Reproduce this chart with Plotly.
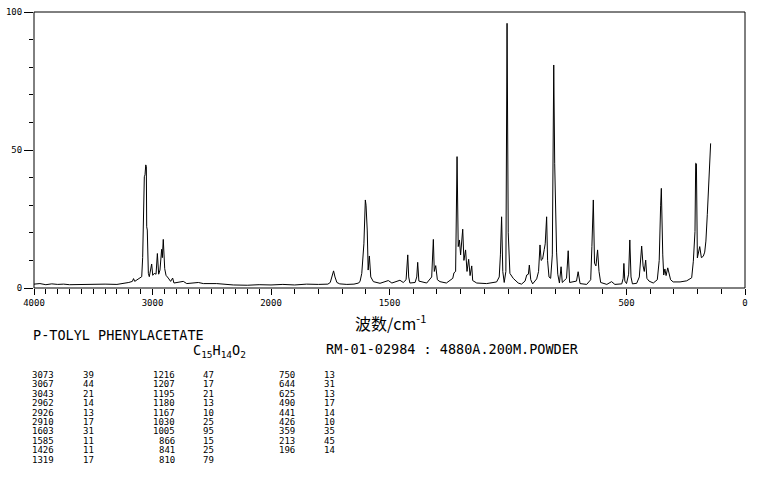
import plotly.graph_objects as go

# ---- spectrum (wavenumber cm-1, relative intensity) ----
wn_high = [4000, 3950, 3900, 3850, 3800, 3750, 3700, 3600, 3500, 3400, 3300, 3250,
           3200, 3170, 3160, 3150, 3130, 3110, 3091, 3083, 3074, 3069, 3063, 3057,
           3052, 3049, 3044, 3035, 3027, 3007, 2998, 2985, 2970, 2959, 2948, 2937,
           2923, 2917, 2909, 2897, 2886, 2867, 2847, 2830, 2819, 2740, 2711, 2613,
           2571, 2458, 2318, 2200, 2100, 2000]
int_high = [1.4, 1.6, 1.2, 1.5, 1.3, 1.4, 1.2, 1.3, 1.2, 1.4, 1.3, 1.6,
            2.0, 2.4, 3.4, 2.4, 3.0, 3.6, 4.1, 11, 35.5, 40.3, 41, 44.6,
            44, 22.2, 21, 5.3, 4.1, 8.7, 4.6, 5.3, 5.0, 12.5, 5.0, 6.5,
            14, 11, 17.6, 7, 4.6, 3.6, 2.4, 3.6, 1.8, 2.4, 1.6, 2.0,
            1.6, 1.6, 1.1, 1.0, 1.2, 1.1]

wn_low = [2000, 1950, 1900, 1850, 1800, 1760, 1750, 1742, 1736, 1730, 1722, 1710,
          1680, 1650, 1630, 1624, 1617, 1608, 1602, 1599, 1594, 1590, 1585, 1579,
          1568, 1540, 1505, 1490, 1456, 1442, 1430, 1423, 1419, 1414, 1392, 1385,
          1381, 1376, 1343, 1322, 1315, 1311, 1305, 1298, 1287, 1260, 1233, 1228,
          1221, 1215, 1210, 1205, 1200, 1191, 1186, 1179, 1173, 1166, 1160, 1153,
          1149, 1132, 1090, 1048, 1037, 1032, 1027, 1022, 1016, 1009, 1004, 999,
          992, 978, 957, 943, 928, 921, 914, 910, 904, 896, 879, 871,
          865, 860, 854, 847, 843, 837, 833, 827, 820, 813, 807, 803,
          799, 795, 790, 783, 776, 771, 753, 746, 740, 711, 704, 696,
          668, 651, 646, 640, 635, 629, 622, 616, 609, 583, 563, 549,
          520, 514, 511, 507, 500, 491, 486, 481, 475, 457, 446, 439,
          436, 430, 425, 419, 414, 405, 387, 370, 362, 356, 353, 347,
          343, 338, 333, 326, 321, 314, 303, 274, 246, 225, 218, 211,
          208, 205, 201, 195, 191, 184, 176, 170, 165, 159, 152, 145]
int_low = [1.1, 1.3, 1.1, 1.4, 1.3, 1.4, 2.0, 4.0, 6.2, 4.0, 2.0, 1.5,
           1.3, 1.4, 1.8, 2.5, 5.3, 16, 31.9, 30, 21, 6.5, 11.6, 4.0,
           2.3, 1.7, 2.7, 1.8, 2.8, 2.0, 3.0, 12, 4.0, 1.8, 2.0, 4.0,
           9.3, 2.5, 1.8, 4.0, 17.6, 6.0, 8.1, 3.0, 2.3, 1.8, 3.5, 5.5,
           6.0, 47.6, 15, 17.4, 12, 21.3, 10, 13.8, 6.0, 10.4, 4.5, 8.0,
           2.7, 1.8, 1.6, 2.2, 4.0, 12, 25.8, 6.0, 2.0, 6.0, 95.9, 20,
           5.3, 3.5, 1.8, 1.4, 2.5, 4.7, 5.0, 8.3, 3.0, 1.5, 3.3, 6.0,
           15.6, 10, 10.5, 14, 16, 25.8, 10, 4.0, 3.5, 12, 80.8, 45,
           20, 13, 5.0, 1.8, 7.7, 2.0, 3.5, 13.5, 2.0, 2.5, 5.9, 1.6,
           1.3, 3.0, 15, 31.9, 9.0, 8.0, 13.8, 6.0, 2.0, 1.3, 2.3, 1.3,
           1.5, 3.5, 8.9, 2.5, 1.6, 5.0, 17.4, 4.0, 1.5, 1.7, 4.0, 12,
           15.2, 8.0, 6.0, 10.1, 3.5, 2.5, 1.8, 3.0, 10, 30, 36.1, 12,
           4.7, 6.9, 4.5, 7.3, 5.0, 3.0, 2.2, 2.2, 2.6, 3.7, 9.7, 20.5,
           45.2, 45, 10.9, 13, 15, 11, 11.5, 13, 17, 26.7, 41.7, 52.4]

# ---- axis tick labels ----
xticks_high = [4000, 3000, 2000]
xticks_low = [1500, 500, 0]
yticks = [0, 50, 100]

# ---- text block ----
compound = "P-TOLYL PHENYLACETATE"
formula = "C<sub>15</sub>H<sub>14</sub>O<sub>2</sub>"
sample_info = "RM-01-02984 : 4880A.200M.POWDER"
axis_title = "波数/cm<sup>-1</sup>"

col1_wn = [3073, 3067, 3043, 2962, 2926, 2910, 1603, 1585, 1426, 1319]
col1_int = [39, 44, 21, 14, 13, 17, 31, 11, 11, 17]
col2_wn = [1216, 1207, 1195, 1180, 1167, 1030, 1005, 866, 841, 810]
col2_int = [47, 17, 21, 13, 10, 25, 95, 15, 25, 79]
col3_wn = [750, 644, 625, 490, 441, 426, 359, 213, 196]
col3_int = [13, 31, 13, 17, 14, 10, 35, 45, 14]

# ---- layout geometry (pixels) ----
W, H = 761, 477
L, T = 34, 12
PW, PH = 711, 276
R = W - L - PW
B = H - T - PH


def px(x):
    return (x - L) / PW


def py(y):
    return (T + PH - y) / PH


MONO = "DejaVu Sans Mono"

fig = go.Figure()
fig.add_trace(go.Scatter(x=wn_high, y=int_high, mode="lines",
                         line=dict(color="black", width=1), xaxis="x", yaxis="y",
                         hoverinfo="skip", showlegend=False))
fig.add_trace(go.Scatter(x=wn_low, y=int_low, mode="lines",
                         line=dict(color="black", width=1), xaxis="x2", yaxis="y",
                         hoverinfo="skip", showlegend=False))

common_x = dict(showgrid=False, zeroline=False, showline=False, ticks="outside",
                ticklen=6, tickwidth=1, tickcolor="black", automargin=False,
                ticklabeloverflow="allow",
                tickfont=dict(family=MONO, size=9, color="black"),
                minor=dict(ticks="outside", dtick=100, tick0=0, ticklen=5,
                           tickwidth=1, tickcolor="black", showgrid=False))

annotations = []
annotations.append(dict(x=px(390), y=py(322), xref="paper", yref="paper",
                        text=axis_title, showarrow=False, xanchor="center", yanchor="middle",
                        font=dict(family="Noto Sans CJK SC", size=16, color="black")))
annotations.append(dict(x=px(31), y=py(335), xref="paper", yref="paper",
                        text=compound, showarrow=False, xanchor="left", yanchor="middle",
                        font=dict(family=MONO, size=13.5, color="black")))
annotations.append(dict(x=px(191), y=py(351), xref="paper", yref="paper",
                        text=formula, showarrow=False, xanchor="left", yanchor="middle",
                        font=dict(family=MONO, size=13.5, color="black")))
annotations.append(dict(x=px(324), y=py(348.5), xref="paper", yref="paper",
                        text=sample_info, showarrow=False, xanchor="left", yanchor="middle",
                        font=dict(family=MONO, size=13.5, color="black")))

cols = [(col1_wn, 55.5), (col1_int, 95.5), (col2_wn, 177), (col2_int, 215.5),
        (col3_wn, 297), (col3_int, 337)]
for vals, xr in cols:
    for i, v in enumerate(vals):
        annotations.append(dict(x=px(xr), y=py(374.7 + 9.45 * i), xref="paper", yref="paper",
                                text=str(v), showarrow=False, xanchor="right", yanchor="middle",
                                font=dict(family=MONO, size=9, color="black")))

fig.update_layout(
    width=W, height=H,
    margin=dict(l=L, r=R, t=T, b=B, pad=0, autoexpand=False),
    paper_bgcolor="white", plot_bgcolor="white",
    showlegend=False,
    xaxis=dict(domain=[0, 1 / 3], range=[4000, 2000], anchor="y",
               tickmode="array", tickvals=xticks_high, ticktext=[str(v) for v in xticks_high],
               **common_x),
    xaxis2=dict(domain=[1 / 3, 1], range=[2000, 0], anchor="y",
                tickmode="array", tickvals=xticks_low, ticktext=[str(v) for v in xticks_low],
                **common_x),
    yaxis=dict(range=[0, 100], anchor="x", showgrid=False, zeroline=False, showline=False,
               automargin=False, ticklabeloverflow="allow",
               ticks="outside", ticklen=9, tickwidth=1, tickcolor="black",
               tickmode="array", tickvals=yticks, ticktext=[str(v) for v in yticks],
               tickfont=dict(family=MONO, size=9, color="black"),
               minor=dict(ticks="outside", dtick=10, tick0=0, ticklen=4, tickwidth=1,
                          tickcolor="black", showgrid=False)),
    shapes=[dict(type="rect", xref="paper", yref="paper", x0=0, x1=1, y0=0, y1=1,
                 line=dict(color="black", width=1), fillcolor="rgba(0,0,0,0)")],
    annotations=annotations,
)

fig.write_html("out.html", config={"displayModeBar": False},
               post_script="document.body.style.margin='0';")
